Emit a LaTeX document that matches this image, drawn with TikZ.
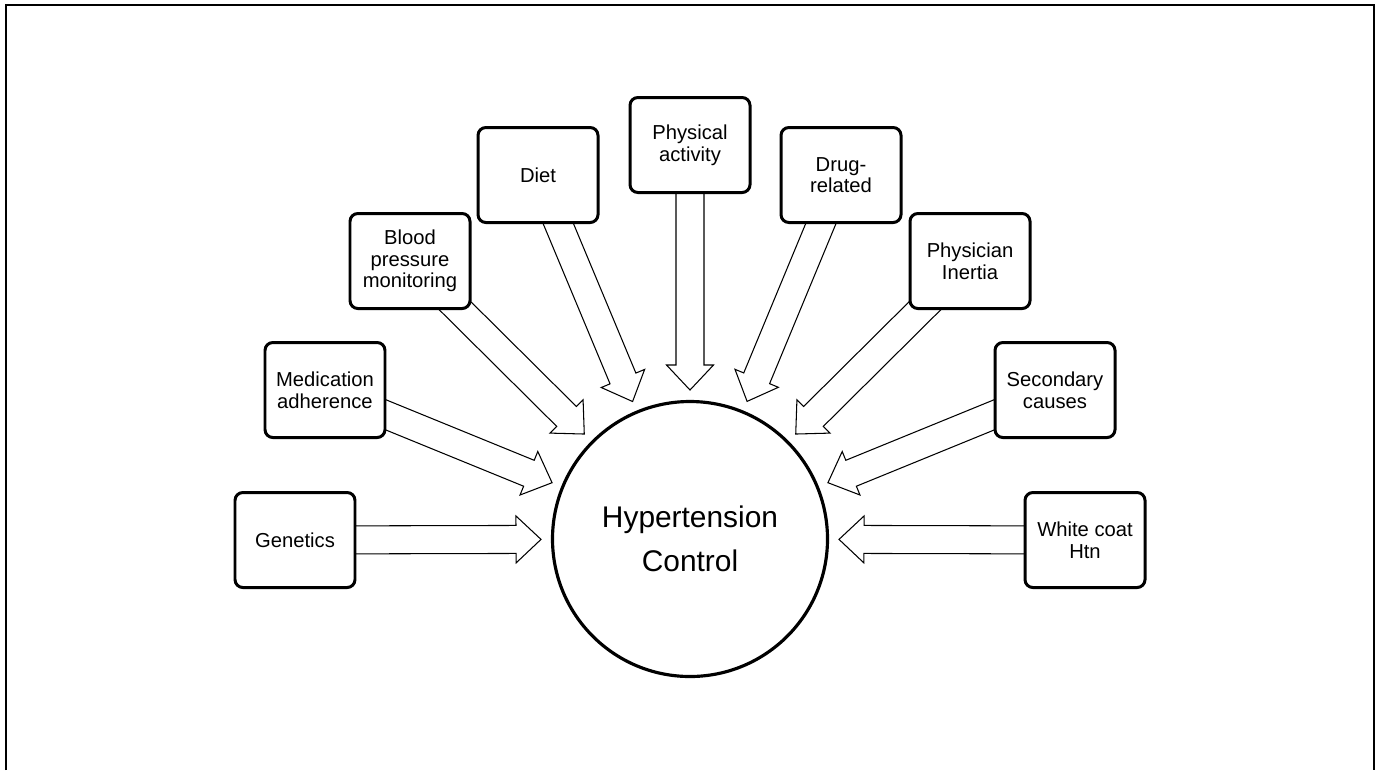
\documentclass[tikz,border=0pt]{standalone}
\usepackage{fontspec}
\setmainfont{Liberation Sans}
\usetikzlibrary{calc}
\usetikzlibrary{backgrounds}
\tikzset{factor/.style={draw,line width=1.7pt,rounded corners=4.5pt,fill=white,minimum width=2.4cm,minimum height=1.9cm,inner sep=0pt,align=center,font=\fontsize{11.5}{12.3}\selectfont},
hub/.style={draw,circle,line width=1.8pt,fill=white,minimum size=5.5cm,inner sep=0pt,align=center,font=\fontsize{17}{25}\selectfont},
fat/.style={draw,fill=white,line width=0.6pt,line join=miter}}
\newcommand{\fatarrow}[2]{%
\coordinate (hb) at ($(#2)!0.5cm!(#1)$);
\draw[fat] ($(#1)!0.28cm!90:(#2)$) -- ($(hb)!0.28cm!90:(#2)$) -- ($(hb)!0.47cm!90:(#2)$) -- (#2) -- ($(hb)!0.47cm!-90:(#2)$) -- ($(hb)!0.28cm!-90:(#2)$) -- ($(#1)!0.28cm!-90:(#2)$) -- cycle;}

\begin{document}
\begin{tikzpicture}
\useasboundingbox (0,0) rectangle (27.54,-15.4);
\draw[line width=1.1pt] (0.12,-15.4) |- (27.48,-0.1) -- (27.48,-15.4);
\node (hc) at (13.8,-10.78) [hub] {Hypertension\\Control};
\foreach \n/\x/\y/\t in {gen/5.9/-10.8/Genetics, med/6.5/-7.8/{Medication\\adherence}, bp/8.2/-5.22/{Blood\\pressure\\monitoring}, diet/10.76/-3.5/Diet, pa/13.8/-2.9/{Physical\\activity}, drug/16.82/-3.5/{Drug-\\related}, ine/19.4/-5.22/{Physician\\Inertia}, sec/21.1/-7.8/{Secondary\\causes}, wc/21.7/-10.8/{White coat\\Htn}} {
\node (\n) at (\x,\y) [factor] {\t};
}
\begin{scope}[on background layer]
\foreach \n in {gen, med, bp, diet, pa, drug, ine, sec, wc} {
\coordinate (t\n) at ($(hc.center)!2.98cm!(\n.center)$);
\fatarrow{\n.center}{t\n}
}
\end{scope}
\end{tikzpicture}
\end{document}
